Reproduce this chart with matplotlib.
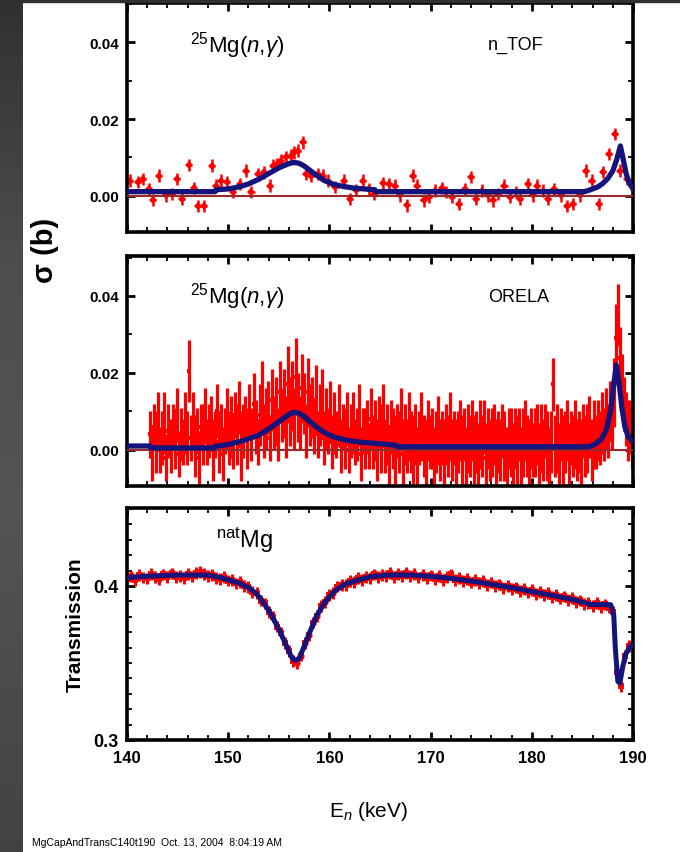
import numpy as np
import matplotlib
matplotlib.use("Agg")
import matplotlib.pyplot as plt
from matplotlib.ticker import MultipleLocator, FormatStrFormatter
from matplotlib.patches import Rectangle

plt.rcParams["font.family"] = ["Liberation Sans", "DejaVu Sans"]
plt.rcParams["mathtext.fontset"] = "custom"
plt.rcParams["mathtext.rm"] = "Liberation Sans"
plt.rcParams["mathtext.it"] = "Liberation Sans:italic"
plt.rcParams["mathtext.bf"] = "Liberation Sans:bold"

# ---------------- n_TOF capture data (E in keV, sigma in b) ----------------
NTOF_E = [140.3, 141.1, 141.6, 142.2, 142.6, 143.2, 143.9, 144.4, 144.9, 145.4,
          146.1, 146.6, 147.0, 147.6, 148.4, 148.8, 149.3, 149.9, 150.5, 151.2,
          151.8, 152.3, 152.9, 153.5, 154.1, 154.4, 154.8, 155.2, 155.7, 156.2,
          156.5, 156.9, 157.4, 157.7, 158.2, 158.9, 159.4, 159.9, 160.6, 161.4,
          162.0, 162.6, 163.3, 163.9, 164.4, 165.3, 165.9, 166.5, 167.0, 167.7,
          168.3, 168.7, 169.3, 169.8, 170.4, 171.1, 171.5, 172.1, 172.8, 173.4,
          174.0, 174.5, 175.1, 175.7, 176.2, 176.7, 177.3, 177.8, 178.4, 178.8,
          179.6, 180.1, 180.5, 181.1, 181.6, 182.2, 182.9, 183.5, 184.1, 184.8,
          185.4, 185.9, 186.6, 187.0, 187.6, 188.2, 188.7, 189.4, 189.9]
NTOF_XS = [0.0040, 0.0037, 0.0044, 0.0018, -0.0010, 0.0053, 0.0001, 0.0005, 0.0044, -0.0008,
           0.0081, 0.0020, -0.0027, -0.0027, 0.0079, 0.0027, 0.0040, 0.0036, 0.0011, 0.0031,
           0.0066, 0.0010, 0.0057, 0.0061, 0.0027, 0.0079, 0.0083, 0.0092, 0.0100, 0.0105,
           0.0113, 0.0118, 0.0139, 0.0057, 0.0053, 0.0057, 0.0053, 0.0040, 0.0023, 0.0040,
           -0.0008, 0.0016, 0.0040, 0.0018, 0.0005, 0.0034, 0.0031, 0.0027, 0.0001, -0.0025,
           0.0053, 0.0027, -0.0012, -0.0003, 0.0014, 0.0020, 0.0010, -0.0003, -0.0021, 0.0018,
           0.0049, -0.0008, 0.0014, 0.0001, -0.0012, 0.0005, 0.0027, -0.0003, 0.0010, -0.0008,
           0.0031, 0.0001, 0.0027, 0.0014, -0.0008, 0.0018, 0.0001, -0.0027, -0.0021, 0.0001,
           0.0066, 0.0040, -0.0021, 0.0063, 0.0109, 0.0161, 0.0066, 0.0044, 0.0027]
NTOF_ERR = 0.0016

# fitted n_TOF cross section (E in keV, sigma in mb)
NTOF_FIT_E = [140.0, 148.7, 148.8, 150.0, 151.0, 152.0, 153.0, 154.0, 155.0, 156.0,
              156.5, 157.0, 157.5, 158.0, 158.7, 159.5, 160.4, 161.5, 162.5, 163.5,
              164.5, 164.6, 185.2, 185.8, 186.5, 187.0, 187.5, 188.0, 188.4, 188.75,
              189.0, 189.3, 189.6, 190.0]
NTOF_FIT_MB = [1.1, 1.1, 1.6, 1.8, 2.3, 3.1, 4.3, 5.8, 7.3, 8.4,
               8.7, 8.5, 7.8, 6.8, 5.4, 4.0, 3.0, 2.4, 2.0, 1.8,
               1.6, 1.1, 1.1, 1.6, 2.3, 3.2, 4.5, 6.5, 9.5, 13.0,
               10.0, 6.0, 3.5, 1.8]

# ---------------- ORELA capture data (0.2 keV channels, sigma in mb) ----------------
ORELA_E0 = 142.3
ORELA_STEP = 0.2
ORELA_MB = [4, -1, 6, 2, 8, 0, 3, 7, -2, 5,
            1, 6, 3, 9, -1, 4, 2, 7, 3, 20.5,
            3, 8, 1, 5, -2, 6, 4, 9, 2, 5,
            7, 0, 4, 10, 2, 6, -1, 5, 8, 3,
            6, 2, 9, 4, 11, 1, 5, 8, 3, 10,
            4, 12, 6, 2, 9, 14, 5, 8, 11, 3,
            13, 7, 10, 4, 15, 9, 12, 6, 17, 10,
            14, 8, 19, 11, 7, 16, 12, 5, 15, 9,
            11, 6, 13, 4, 9, 12, 3, 8, 5, 10,
            2, 7, 4, 9, 1, 6, 3, 8, 0, 5,
            7, 2, 4, 9, -1, 5, 3, 6, 1, 8,
            2, 5, 0, 7, 3, 9, 1, 4, -2, 6,
            3, 0, 5, 2, 8, -1, 4, 1, 6, 2,
            0, 4, -2, 3, 6, 1, -1, 5, 2, 3,
            -2, 2, 5, 0, 3, -1, 4, 1, 6, 0,
            3, -1, 2, 5, 0, 4, -2, 3, 1, 5,
            0, 2, -1, 4, 1, 6, -2, 3, 0, 2,
            4, -1, 2, 0, 5, 1, -2, 3, 2, -1,
            3, 0, 4, -2, 2, 5, 1, -1, 3, 0,
            2, 4, -1, 3, 0, 5, 1, -2, 2, 17,
            1, 3, -1, 4, 0, 2, 5, -2, 3, 1,
            4, 0, 2, -1, 5, 1, 3, 6, 0, 4,
            2, 5, 3, 7, 4, 8, 5, 10, 9, 15,
            29, 35, 24, 17, 12, 8, 5, 6, 3]
ORELA_ERR_MB = [6, 7, 6, 8, 7, 6, 7, 8, 6, 7,
                7, 6, 8, 7, 6, 7, 6, 8, 7, 8,
                6, 7, 8, 6, 7, 6, 8, 7, 6, 7,
                7, 8, 6, 7, 8, 6, 7, 6, 8, 7,
                8, 7, 6, 8, 7, 9, 7, 6, 8, 7,
                7, 8, 7, 6, 8, 9, 7, 8, 7, 6,
                8, 7, 9, 7, 8, 7, 9, 8, 10, 9,
                9, 8, 10, 9, 7, 9, 8, 7, 9, 8,
                8, 7, 9, 6, 8, 9, 7, 8, 6, 8,
                7, 8, 6, 8, 7, 6, 8, 7, 6, 7,
                8, 6, 7, 8, 7, 6, 8, 7, 6, 8,
                7, 8, 8, 7, 9, 8, 7, 8, 8, 7,
                8, 9, 7, 8, 8, 9, 8, 7, 9, 8,
                9, 8, 8, 7, 9, 8, 9, 8, 7, 8,
                8, 8, 9, 8, 7, 9, 8, 8, 9, 8,
                7, 9, 8, 8, 9, 7, 8, 9, 8, 8,
                9, 8, 8, 9, 8, 7, 9, 8, 8, 9,
                8, 9, 8, 8, 7, 9, 8, 8, 9, 8,
                8, 9, 7, 8, 9, 8, 8, 9, 8, 7,
                9, 8, 8, 9, 8, 7, 9, 8, 8, 7,
                8, 9, 8, 7, 9, 8, 8, 9, 7, 8,
                9, 8, 8, 9, 7, 8, 9, 8, 8, 9,
                7, 8, 7, 8, 7, 8, 7, 8, 9, 9,
                9, 8, 8, 8, 7, 7, 8, 7, 8]

# fitted ORELA cross section (E in keV, sigma in mb)
ORELA_FIT_E = [140.0, 142.3, 142.4, 148.6, 148.7, 150.0, 151.5, 153.0, 154.0, 155.0,
               156.0, 156.5, 157.0, 157.5, 158.0, 158.7, 159.5, 160.5, 161.7, 163.0,
               164.0, 166.6, 166.7, 185.6, 186.3, 186.9, 187.4, 187.8, 188.1, 188.35,
               188.6, 188.9, 189.2, 189.5, 190.0]
ORELA_FIT_MB = [1.0, 1.0, 0.5, 0.5, 0.9, 1.4, 2.4, 3.8, 5.4, 7.3,
                9.2, 9.8, 9.5, 8.7, 7.5, 6.0, 4.5, 3.3, 2.5, 2.0,
                1.8, 1.2, 0.8, 0.8, 1.5, 2.8, 5.5, 10.5, 17.0, 22.0,
                18.0, 11.0, 6.0, 3.6, 2.0]

# ---------------- natMg transmission (0.4 keV channels, T x 1e4) ----------------
TRANS_E0 = 140.0
TRANS_STEP = 0.4
TRANS_1E4 = [4048, 4062, 4040, 4071, 4055, 4049, 4078, 4058, 4044, 4075,
             4060, 4081, 4057, 4066, 4050, 4076, 4062, 4085, 4090, 4078,
             4064, 4072, 4050, 4043, 4056, 4035, 4040, 4016, 4025, 4001,
             3995, 3962, 3956, 3905, 3887, 3832, 3801, 3736, 3697, 3630,
             3578, 3512, 3500, 3548, 3628, 3683, 3762, 3805, 3870, 3894,
             3942, 3955, 3996, 4005, 4008, 4030, 4024, 4050, 4038, 4060,
             4052, 4075, 4060, 4073, 4064, 4082, 4058, 4079, 4066, 4085,
             4063, 4076, 4055, 4071, 4052, 4068, 4047, 4064, 4040, 4060,
             4075, 4040, 4050, 4030, 4045, 4022, 4040, 4018, 4030, 4008,
             4022, 3998, 4010, 3985, 4001, 3978, 3990, 3968, 3980, 3958,
             3972, 3950, 3962, 3940, 3952, 3930, 3941, 3918, 3932, 3910,
             3922, 3898, 3906, 3884, 3890, 3870, 3888, 3865, 3880, 3860,
             3830, 3440, 3350, 3545, 3610, 3618]
TRANS_ERR = 0.0038

TRANS_FIT_E = [140.0, 142.0, 145.0, 148.0, 149.0, 150.0, 151.0, 152.0, 152.8, 153.5,
               154.2, 155.0, 155.7, 156.2, 156.6, 157.0, 157.4, 158.0, 158.7, 159.5,
               160.5, 161.5, 162.5, 164.0, 166.0, 168.0, 170.0, 172.0, 175.0, 178.0,
               181.0, 184.0, 185.8, 187.8, 188.1, 188.25, 188.5, 188.7, 189.0, 189.3,
               189.7, 190.0]
TRANS_FIT = [0.4055, 0.4063, 0.4071, 0.4070, 0.4058, 0.4040, 0.4020, 0.3990, 0.3950, 0.3890,
             0.3820, 0.3720, 0.3620, 0.3545, 0.3515, 0.3530, 0.3590, 0.3690, 0.3800, 0.3890,
             0.3965, 0.4010, 0.4032, 0.4060, 0.4071, 0.4071, 0.4062, 0.4049, 0.4022, 0.3989,
             0.3951, 0.3913, 0.3880, 0.3878, 0.3810, 0.3600, 0.3380, 0.3370, 0.3480, 0.3560,
             0.3605, 0.3620]

RED = "#ff0000"
NAVY = "#14147c"
ZERO = "#9a2a2a"

W, H = 680, 853
fig = plt.figure(figsize=(W / 100, H / 100), dpi=100)
fig.patch.set_facecolor("white")

# dark frame strips on the left and top edges
strip = fig.add_axes([0, 0, 22 / W, 1])
shade = np.interp(np.linspace(0, 1, 200), [0, 0.3, 0.6, 1.0], [0.19, 0.30, 0.33, 0.26])
strip.imshow(shade[:, None], aspect="auto", cmap="gray", vmin=0, vmax=1,
             extent=[0, 1, 0, 1])
strip.set_axis_off()
fig.patches.append(Rectangle((0, 1 - 3 / H), 1, 3 / H, transform=fig.transFigure,
                             color="#303030", zorder=0))


def px_axes(top, bottom):
    return fig.add_axes([127 / W, 1 - bottom / H, 506 / W, (bottom - top) / H])


def style(ax, ylim, ymaj, ymin, yfmt, ysize, show_x):
    ax.set_xlim(140, 190)
    ax.set_ylim(*ylim)
    ax.xaxis.set_major_locator(MultipleLocator(10))
    ax.xaxis.set_minor_locator(MultipleLocator(2))
    ax.yaxis.set_major_locator(MultipleLocator(ymaj))
    ax.yaxis.set_minor_locator(MultipleLocator(ymin))
    ax.yaxis.set_major_formatter(FormatStrFormatter(yfmt))
    ax.tick_params(which="both", direction="in", top=True, right=True,
                   color="black")
    ax.tick_params(which="major", length=6, width=2)
    ax.tick_params(which="minor", length=3.5, width=1.3)
    ax.tick_params(axis="y", labelsize=ysize, pad=6)
    ax.tick_params(axis="x", labelsize=12, pad=7)
    for lab in ax.get_yticklabels() + ax.get_xticklabels():
        lab.set_fontweight("bold")
    if not show_x:
        ax.tick_params(axis="x", labelbottom=False)
    for s in ax.spines.values():
        s.set_linewidth(2.6)


# ---- panel 1: n_TOF ----
ax1 = px_axes(4, 233)
ax1.errorbar(NTOF_E, NTOF_XS, yerr=NTOF_ERR, xerr=0.3, fmt="D", ms=4.5,
             color=RED, ecolor=RED, elinewidth=1.8, capsize=0, mew=0, zorder=2)
ax1.axhline(0, color=ZERO, lw=1.5, zorder=3)
ax1.plot(NTOF_FIT_E, np.array(NTOF_FIT_MB) / 1000, color=NAVY, lw=3.8, zorder=4)
style(ax1, (-0.0094, 0.0502), 0.02, 0.01, "%.2f", 11, False)
ax1.text(0.125, 0.82, r"$^{25}$Mg($n$,$\gamma$)", transform=ax1.transAxes,
         fontsize=16, va="center", ha="left")
ax1.text(0.713, 0.82, "n_TOF", transform=ax1.transAxes, fontsize=13,
         va="center", ha="left")

# ---- panel 2: ORELA ----
ax2 = px_axes(257, 487)
orela_e = ORELA_E0 + ORELA_STEP * np.arange(len(ORELA_MB))
ax2.errorbar(orela_e, np.array(ORELA_MB) / 1000, yerr=np.array(ORELA_ERR_MB) / 1000,
             xerr=0.1, fmt="s", ms=3, color=RED, ecolor=RED, elinewidth=2.3,
             capsize=0, mew=0, zorder=2)
ax2.axhline(0, color=ZERO, lw=1.5, zorder=3)
ax2.plot(ORELA_FIT_E, np.array(ORELA_FIT_MB) / 1000, color=NAVY, lw=3.8, zorder=4)
style(ax2, (-0.0094, 0.0504), 0.02, 0.01, "%.2f", 11, False)
ax2.text(0.125, 0.826, r"$^{25}$Mg($n$,$\gamma$)", transform=ax2.transAxes,
         fontsize=16, va="center", ha="left")
ax2.text(0.713, 0.826, "ORELA", transform=ax2.transAxes, fontsize=13,
         va="center", ha="left")

# ---- panel 3: transmission ----
ax3 = px_axes(509, 741)
trans_e = TRANS_E0 + TRANS_STEP * np.arange(len(TRANS_1E4))
ax3.errorbar(trans_e, np.array(TRANS_1E4) / 1e4, yerr=TRANS_ERR, xerr=0.25,
             fmt="s", ms=4.5, color=RED, ecolor=RED, elinewidth=2.2, capsize=0,
             mew=0, zorder=2)
ax3.plot(TRANS_FIT_E, TRANS_FIT, color=NAVY, lw=3.6, zorder=4)
style(ax3, (0.3, 0.4506), 0.1, 0.01, "%.1f", 13, True)
ax3.text(0.175, 0.866, r"$^{\mathrm{nat}}$Mg", transform=ax3.transAxes,
         fontsize=17, va="center", ha="left")
ax3.set_ylabel("Transmission", fontsize=15, fontweight="bold", labelpad=6)

fig.text(45 / W, 1 - 250 / H, "σ (b)", rotation=90, fontsize=21,
         fontweight="bold", ha="center", va="center")
fig.text(369 / W, 1 - 812 / H, r"E$_n$ (keV)", fontsize=15, ha="center",
         va="center")
fig.text(32 / W, 1 - 843 / H, "MgCapAndTransC140t190  Oct. 13, 2004  8:04:19 AM",
         fontsize=7.5, ha="left", va="center")

fig.savefig("out.png", dpi=100)
